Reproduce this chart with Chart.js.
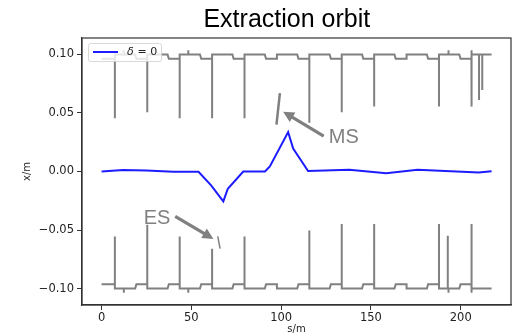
<!DOCTYPE html>
<html>
<head>
<meta charset="utf-8">
<script src="https://cdn.jsdelivr.net/npm/chart.js@4.4.0/dist/chart.umd.min.js"></script>
<style>
  html, body { margin: 0; padding: 0; background: #fff; }
  canvas { display: block; }
</style>
</head>
<body>
<canvas id="orbit" width="514" height="335"></canvas>
<script>
// closed orbit for delta = 0  (s in m, x in m)
const orbitS = [0, 12, 25, 40, 54, 61, 67.8, 70.3, 78.9, 91, 93.7, 103.9, 106.7, 115, 138, 158.5, 176, 210, 217.2];
const orbitX = [0, 0.0012, 0.0008, -0.0002, -0.0002, -0.0118, -0.0255, -0.0147, 0, 0, 0.0043, 0.0336, 0.0195, 0.0004, 0.0014, -0.0014, 0.0014, -0.0008, 0.0003];

// aperture: cell starts (magnet edges) and end of the wide part
const cellS = [7.4, 25.45, 43.5, 61.55, 79.6, 97.65, 115.7, 133.75, 151.8, 169.85, 187.9, 205.95];
const flatEndS = [18.7, 36.75, 54.8, 72.85, 90.9, 108.95, 127.0, 145.05, 163.1, 181.15, 199.2, 217.2];
const upperSpikeX = [0.0455, 0.0506, 0.0455, 0.0455, 0.0455, null, 0.0417, 0.0506, 0.0554, null, 0.0554, 0.0554];
const lowerSpikeX = [-0.0554, -0.0454, -0.0554, -0.0659, -0.0554, null, -0.0503, -0.0448, -0.0448, null, -0.0448, -0.0448];
const apertureOuter = 0.100;
const apertureInner = 0.0962;
const correctorS = [12.4, 48.3, 193.2, 206.1];
const correctorX = 0.1035;
const extraUpperS = [210.2, 212.0];
const extraUpperX = [0.0611, 0.0696];
const extraLowerS = [192.8];
const extraLowerX = [-0.0548];

// septum blades
const msBladeS = [97.4, 99.3];
const msBladeX = [0.040, 0.067];
const esBladeS = [64.7, 66.0];
const esBladeX = [-0.0554, -0.0659];

// annotations
const noteText = ['MS', 'ES'];
const noteS = [126.5, 23.5];
const noteX = [0.0245, -0.0446];
const arrowTailS = [123.7, 41.0];
const arrowTailX = [0.0303, -0.0383];
const arrowTipS = [101.1, 62.3];
const arrowTipX = [0.0511, -0.0576];

const xTicks = [0, 50, 100, 150, 200];
const yTicks = [-0.10, -0.05, 0.00, 0.05, 0.10];

function buildAperture(sign, spikes, exS, exX) {
  const pts = [{x: 0, y: sign * apertureInner}];
  cellS.forEach((s0, k) => {
    pts.push({x: s0, y: sign * apertureInner});
    if (spikes[k] !== null) pts.push({x: s0, y: spikes[k]});
    pts.push({x: s0, y: sign * apertureOuter});
    const marks = [];
    correctorS.forEach(c => { if (c >= s0 && c < flatEndS[k]) marks.push({s: c, x: sign * correctorX}); });
    exS.forEach((e, i) => { if (e >= s0 && e < flatEndS[k]) marks.push({s: e, x: exX[i]}); });
    marks.sort((a, b) => a.s - b.s).forEach(m => {
      pts.push({x: m.s, y: sign * apertureOuter}, {x: m.s, y: m.x}, {x: m.s, y: sign * apertureOuter});
    });
    pts.push({x: flatEndS[k], y: sign * apertureOuter});
    if (k < cellS.length - 1) pts.push({x: flatEndS[k] + 0.7, y: sign * apertureInner});
  });
  return pts;
}

const zip = (a, b) => a.map((v, i) => ({x: v, y: b[i]}));

function drawArrow(ctx, x1, y1, x2, y2) {
  const ang = Math.atan2(y2 - y1, x2 - x1);
  const headLen = 11, headW = 5.5, shaft = 1.6;
  const bx = x2 - headLen * Math.cos(ang), by = y2 - headLen * Math.sin(ang);
  const nx = -Math.sin(ang), ny = Math.cos(ang);
  ctx.beginPath();
  ctx.moveTo(x1 + nx * shaft, y1 + ny * shaft);
  ctx.lineTo(bx + nx * shaft, by + ny * shaft);
  ctx.lineTo(bx + nx * headW, by + ny * headW);
  ctx.lineTo(x2, y2);
  ctx.lineTo(bx - nx * headW, by - ny * headW);
  ctx.lineTo(bx - nx * shaft, by - ny * shaft);
  ctx.lineTo(x1 - nx * shaft, y1 - ny * shaft);
  ctx.closePath();
  ctx.fill();
}

const decorations = {
  id: 'decorations',
  afterDatasetsDraw(chart) {
    const {ctx, chartArea: a, scales: {x, y}} = chart;
    ctx.save();
    // annotations
    ctx.fillStyle = '#808080';
    for (let i = 0; i < noteText.length; i++) {
      drawArrow(ctx, x.getPixelForValue(arrowTailS[i]), y.getPixelForValue(arrowTailX[i]),
        x.getPixelForValue(arrowTipS[i]), y.getPixelForValue(arrowTipX[i]));
      ctx.font = '20px "Liberation Sans", Arial, sans-serif';
      ctx.textBaseline = 'alphabetic';
      ctx.textAlign = 'left';
      ctx.fillText(noteText[i], x.getPixelForValue(noteS[i]), y.getPixelForValue(noteX[i]));
    }
    // legend
    const lx = a.left + 6, ly = a.top + 5, lw = 73, lh = 18;
    ctx.globalAlpha = 0.8;
    ctx.fillStyle = '#fff';
    ctx.strokeStyle = '#d0d0d0';
    ctx.lineWidth = 1;
    ctx.beginPath();
    ctx.roundRect(lx + 0.5, ly + 0.5, lw, lh, 2);
    ctx.fill();
    ctx.stroke();
    ctx.globalAlpha = 1;
    const ds = chart.data.datasets[0];
    ctx.strokeStyle = ds.borderColor;
    ctx.lineWidth = 2;
    ctx.beginPath();
    ctx.moveTo(lx + 5, ly + 9);
    ctx.lineTo(lx + 30, ly + 9);
    ctx.stroke();
    ctx.fillStyle = '#222';
    ctx.font = 'italic 11px "DejaVu Sans", sans-serif';
    ctx.textBaseline = 'middle';
    ctx.fillText('δ', lx + 39, ly + 9.5);
    ctx.font = '11px "DejaVu Sans", sans-serif';
    ctx.fillText(ds.label.slice(1), lx + 46, ly + 9.5);
    ctx.restore();
  },
  afterDraw(chart) {
    const {ctx, chartArea: a} = chart;
    ctx.save();
    ctx.strokeStyle = '#333';
    ctx.lineWidth = 1.2;
    ctx.strokeRect(a.left, a.top, a.right - a.left, a.bottom - a.top);
    ctx.fillStyle = '#000';
    ctx.font = '25px "Liberation Sans", Arial, sans-serif';
    ctx.textAlign = 'center';
    ctx.textBaseline = 'alphabetic';
    ctx.fillText('Extraction orbit', chart.width * 0.558, 27);
    ctx.restore();
  }
};

const tickFont = {family: '"DejaVu Sans", sans-serif', size: 11.5};

new Chart(document.getElementById('orbit'), {
  type: 'line',
  data: {
    datasets: [
      { label: 'δ = 0', data: zip(orbitS, orbitX), borderColor: '#1c1cff', borderWidth: 2, pointRadius: 0 },
      { label: 'upper aperture', data: buildAperture(1, upperSpikeX, extraUpperS, extraUpperX), borderColor: '#808080', borderWidth: 2, pointRadius: 0 },
      { label: 'lower aperture', data: buildAperture(-1, lowerSpikeX, extraLowerS, extraLowerX), borderColor: '#808080', borderWidth: 2, pointRadius: 0 },
      { label: 'MS blade', data: zip(msBladeS, msBladeX), borderColor: '#808080', borderWidth: 2.5, pointRadius: 0 },
      { label: 'ES blade', data: zip(esBladeS, esBladeX), borderColor: '#808080', borderWidth: 1.5, pointRadius: 0 }
    ]
  },
  options: {
    responsive: false,
    animation: false,
    layout: { padding: { top: 38, right: 3, left: 0, bottom: 0 } },
    plugins: { legend: { display: false }, tooltip: { enabled: false }, title: { display: false } },
    scales: {
      x: {
        type: 'linear', min: -10.9, max: 228,
        afterBuildTicks: s => { s.ticks = xTicks.map(v => ({value: v})); },
        afterFit: s => { s.height = 30; },
        grid: { drawOnChartArea: false, tickLength: 5, color: '#333' },
        border: { color: '#333', width: 1.2 },
        ticks: { font: tickFont, color: '#222', padding: 1, maxRotation: 0 },
        title: { display: true, text: 's/m', color: '#222', padding: 0, font: {family: '"DejaVu Sans", sans-serif', size: 10} }
      },
      y: {
        type: 'linear', min: -0.114, max: 0.114,
        afterBuildTicks: s => { s.ticks = yTicks.map(v => ({value: v})); },
        afterFit: s => { s.width = 82; },
        grid: { drawOnChartArea: false, tickLength: 5, color: '#333' },
        border: { color: '#333', width: 1.2 },
        ticks: { font: tickFont, color: '#222', padding: 3, callback: v => (v < 0 ? '\u2212' : '') + Math.abs(v).toFixed(2) },
        title: { display: true, text: 'x/m', color: '#222', padding: {top: 21, bottom: 0}, font: {family: '"DejaVu Sans", sans-serif', size: 10} }
      }
    }
  },
  plugins: [decorations]
});
</script>
</body>
</html>
